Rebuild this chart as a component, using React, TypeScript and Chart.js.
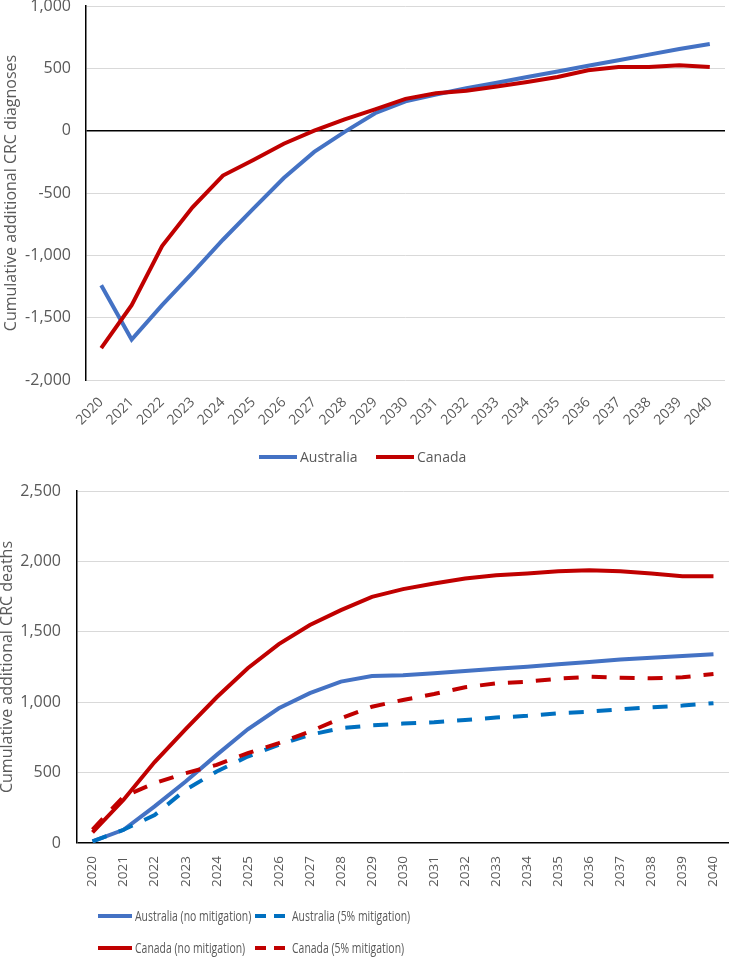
import React, { useEffect, useRef } from "react";
import { Chart, registerables } from "chart.js";

Chart.register(...registerables);

const years = ["2020","2021","2022","2023","2024","2025","2026","2027","2028","2029","2030","2031","2032","2033","2034","2035","2036","2037","2038","2039","2040"];

// Top chart: cumulative additional CRC diagnoses
const diagAustralia = [-1240, -1675, -1400, -1140, -875, -625, -380, -170, -10, 140, 235, 290, 340, 385, 430, 475, 520, 565, 610, 655, 695];
const diagCanada = [-1745, -1400, -925, -615, -360, -235, -105, 0, 90, 170, 255, 300, 320, 355, 390, 430, 485, 510, 510, 525, 510];

// Bottom chart: cumulative additional CRC deaths
const deathAusNoMit = [12, 94, 260, 437, 626, 808, 957, 1064, 1146, 1186, 1191, 1205, 1222, 1238, 1252, 1269, 1285, 1304, 1316, 1328, 1340];
const deathAus5 = [12, 94, 198, 378, 508, 614, 697, 768, 815, 835, 848, 858, 874, 891, 903, 922, 933, 950, 964, 976, 993];
const deathCanNoMit = [75, 307, 575, 808, 1035, 1241, 1413, 1548, 1654, 1748, 1803, 1843, 1879, 1902, 1914, 1930, 1938, 1930, 1914, 1895, 1895];
const deathCan5 = [95, 330, 425, 496, 555, 638, 709, 791, 886, 968, 1016, 1058, 1106, 1134, 1146, 1167, 1181, 1174, 1170, 1177, 1200];

const BLUE = "#4472C4";
const RED = "#C00000";
const BLUE2 = "#0070C0";
const TEXT = "#595959";
const GRID = "#D9D9D9";
const FONT = "'Open Sans', sans-serif";

type LegendItem = { ds: number; x: number; y: number };

function legendPlugin(items: LegendItem[], o: { lineLen: number; gap: number; size: number; scaleX: number; sampleDash?: number[] }) {
  return {
    id: "customLegend",
    afterDraw(chart: any) {
      const ctx = chart.ctx as CanvasRenderingContext2D;
      items.forEach((it) => {
        const ds: any = chart.data.datasets[it.ds];
        ctx.save();
        ctx.strokeStyle = ds.borderColor;
        ctx.lineWidth = ds.borderWidth;
        ctx.lineCap = "butt";
        ctx.setLineDash(ds.borderDash && ds.borderDash.length ? (o.sampleDash || ds.borderDash) : []);
        ctx.beginPath();
        ctx.moveTo(it.x, it.y);
        ctx.lineTo(it.x + o.lineLen, it.y);
        ctx.stroke();
        ctx.setLineDash([]);
        ctx.fillStyle = TEXT;
        ctx.font = `${o.size}px ${FONT}`;
        ctx.textBaseline = "middle";
        ctx.textAlign = "left";
        ctx.translate(it.x + o.lineLen + o.gap, it.y + 1);
        ctx.scale(o.scaleX, 1);
        ctx.fillText(ds.label, 0, 0);
        ctx.restore();
      });
    },
  };
}

function yScale(min: number, max: number, step: number, title: string, width: number, titlePad: number, tickGap: number) {
  return {
    min,
    max,
    afterFit(scale: any) {
      scale.width = width;
    },
    ticks: {
      stepSize: step,
      color: TEXT,
      padding: 0,
      font: { family: FONT, size: 16, lineHeight: 1.1 },
    },
    grid: {
      drawTicks: true,
      tickLength: tickGap,
      tickColor: "rgba(0,0,0,0)",
      color: (c: any) => (c.tick && c.tick.value === 0 ? "#000000" : GRID),
      lineWidth: (c: any) => (c.tick && c.tick.value === 0 ? 1.5 : 1),
    },
    border: { display: true, color: "#000000", width: 1.5 },
    title: {
      display: true,
      text: title,
      color: TEXT,
      font: { family: FONT, size: 16, lineHeight: 1 },
      padding: { top: titlePad, bottom: 0 },
    },
  };
}

function xScale(rotation: number, height: number, pad: number, size: number) {
  return {
    type: "category" as const,
    offset: true,
    afterFit(scale: any) {
      scale.height = height;
    },
    grid: { display: false, drawTicks: false },
    border: { display: false },
    ticks: {
      autoSkip: false,
      minRotation: rotation,
      maxRotation: rotation,
      padding: pad,
      color: TEXT,
      font: { family: FONT, size },
    },
  };
}

function DiagnosesChart() {
  const ref = useRef<HTMLCanvasElement>(null);
  useEffect(() => {
    const chart = new Chart(ref.current!, {
      type: "line",
      data: {
        labels: years,
        datasets: [
          { label: "Australia", data: diagAustralia, borderColor: BLUE, backgroundColor: BLUE, borderWidth: 4, pointRadius: 0, tension: 0, order: 1 },
          { label: "Canada", data: diagCanada, borderColor: RED, backgroundColor: RED, borderWidth: 4, pointRadius: 0, tension: 0, order: 0 },
        ],
      },
      options: {
        animation: false,
        responsive: false,
        layout: { padding: { left: 0, right: 25, top: 9, bottom: 40 } },
        plugins: { legend: { display: false }, tooltip: { enabled: false } },
        scales: {
          x: xScale(45, 50, 14, 14),
          y: yScale(-2000, 1000, 500, "Cumulative additional CRC diagnoses", 86, 3.5, 15),
        },
      },
      plugins: [
        legendPlugin(
          [
            { ds: 0, x: 259, y: 460 },
            { ds: 1, x: 376, y: 460 },
          ],
          { lineLen: 38, gap: 3, size: 14, scaleX: 1 }
        ),
      ],
    } as any);
    return () => chart.destroy();
  }, []);
  return <canvas ref={ref} width={750} height={473} style={{ position: "absolute", left: 0, top: -3, width: 750, height: 473 }} />;
}

function DeathsChart() {
  const ref = useRef<HTMLCanvasElement>(null);
  useEffect(() => {
    const chart = new Chart(ref.current!, {
      type: "line",
      data: {
        labels: years,
        datasets: [
          { label: "Australia (no mitigation)", data: deathAusNoMit, borderColor: BLUE, backgroundColor: BLUE, borderWidth: 4, pointRadius: 0, tension: 0, order: 3 },
          { label: "Australia (5% mitigation)", data: deathAus5, borderColor: BLUE2, backgroundColor: BLUE2, borderWidth: 4, borderDash: [15, 13], pointRadius: 0, tension: 0, order: 2 },
          { label: "Canada (no mitigation)", data: deathCanNoMit, borderColor: RED, backgroundColor: RED, borderWidth: 4, pointRadius: 0, tension: 0, order: 1 },
          { label: "Canada (5% mitigation)", data: deathCan5, borderColor: RED, backgroundColor: RED, borderWidth: 4, borderDash: [15, 13], pointRadius: 0, tension: 0, order: 0 },
        ],
      },
      options: {
        animation: false,
        responsive: false,
        layout: { padding: { left: 0, right: 21, top: 21, bottom: 83 } },
        plugins: { legend: { display: false }, tooltip: { enabled: false } },
        scales: {
          x: xScale(90, 45, 13, 13.5),
          y: yScale(0, 2500, 500, "Cumulative additional CRC deaths", 77, -1, 16),
        },
      },
      plugins: [
        legendPlugin(
          [
            { ds: 0, x: 98, y: 446 },
            { ds: 1, x: 255, y: 446 },
            { ds: 2, x: 98, y: 478 },
            { ds: 3, x: 255, y: 478 },
          ],
          { lineLen: 34, gap: 3, size: 14.5, scaleX: 0.72, sampleDash: [11, 8] }
        ),
      ],
    } as any);
    return () => chart.destroy();
  }, []);
  return <canvas ref={ref} width={750} height={501} style={{ position: "absolute", left: 0, top: 470, width: 750, height: 501 }} />;
}

export default function App() {
  return (
    <div style={{ position: "absolute", left: 0, top: 0, width: 750, height: 971, background: "#ffffff", overflow: "hidden" }}>
      <DiagnosesChart />
      <DeathsChart />
    </div>
  );
}
